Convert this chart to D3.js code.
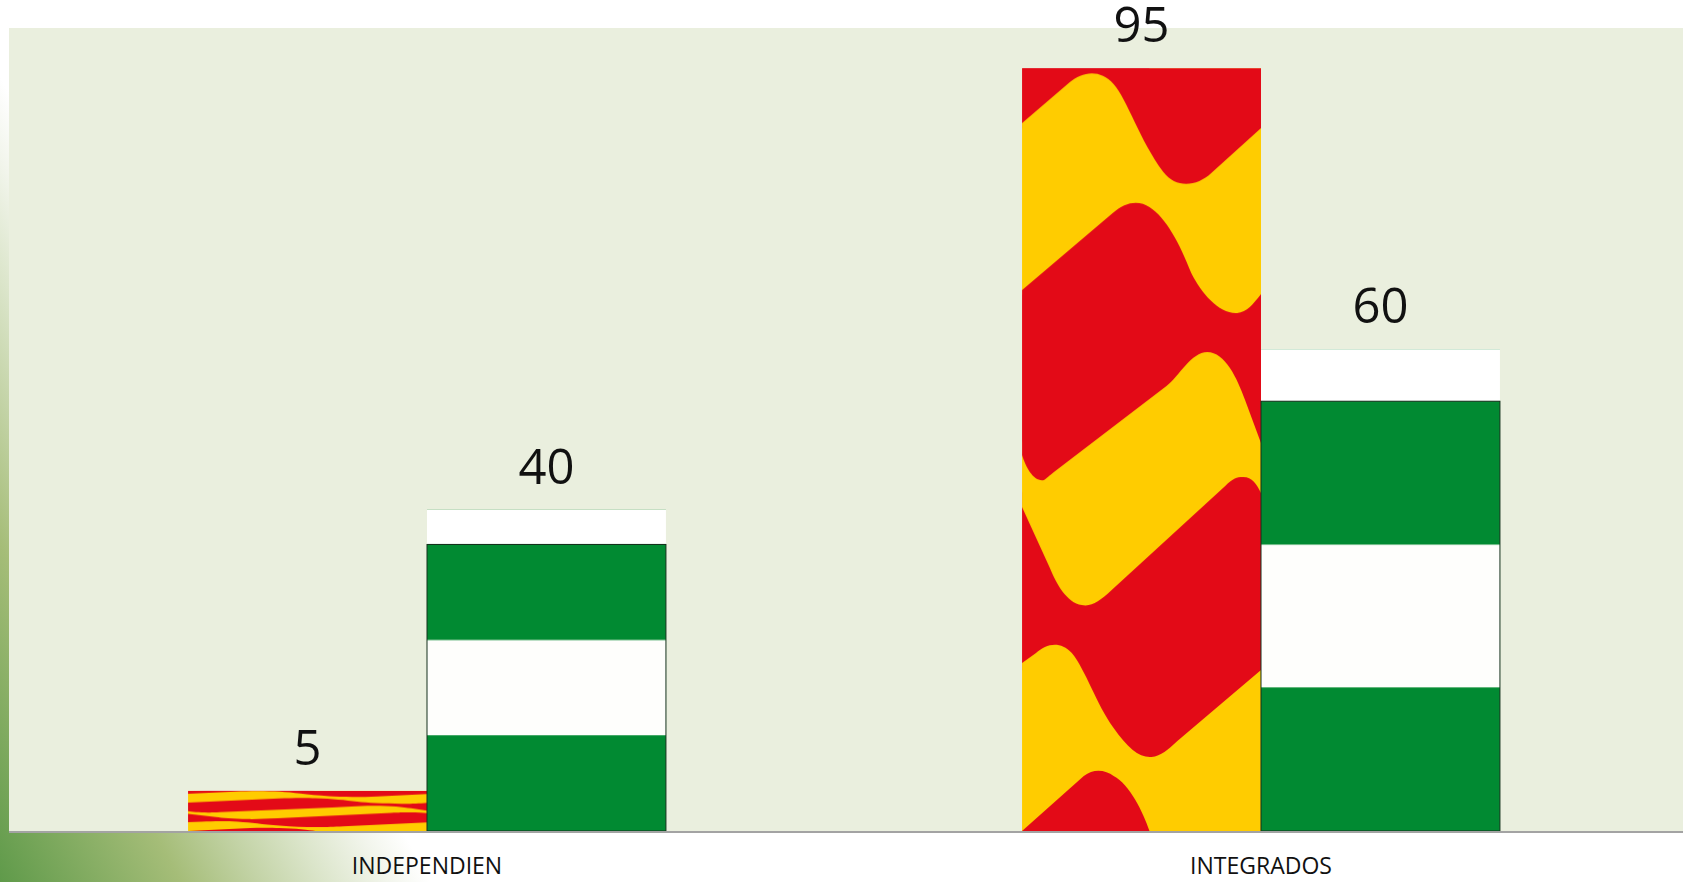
<!DOCTYPE html>
<head>
  <meta charset="utf-8">
  <script src="https://d3js.org/d3.v7.min.js"></script>
  <style>
    body { margin:0; background:#fff; }
    svg { display:block; }
    .axis text { font: 23px "Open Sans", sans-serif; fill:#111; }
    .axis path { stroke:#a3a3a3; stroke-width:2px; }
    .value { font: 49px "Open Sans", sans-serif; fill:#111; text-anchor:middle; }
  </style>
</head>

<body>
  <svg id="chart"></svg>
  <script>

  var categories = ["INDEPENDIEN", "INTEGRADOS"];
  var seriesNames = ["senyera", "andalucia"];
  var senyeraValues = [5, 95];
  var andaluciaValues = [40, 60];

  var width = 1683, height = 882;
  var plot = {left: 9, right: 1683, top: 28, bottom: 831};

  // the yellow waves of the flag, drawn in a 240x763 box
  var waves = [
    "M0,55L48,14C60,4,78,0,92,16C106,32,118,72,142,104C155,121,176,118,190,105L240,60" +
      "L240,226C232,236,226,244,216,245C198,246,180,225,170,205C158,175,145,150,128,139C118,132,104,133,91,145L0,222Z",
    "M0,387C4,400,12,414,22,412C24,411,28,407,32,404L145,318C158,308,170,284,186,284C204,284,216,310,224,332L240,375" +
      "L240,425C236,416,230,408,221,409C216,409,212,410,204,418L90,522C78,533,70,539,60,537C45,535,34,515,28,500L0,439Z",
    "M0,595L14,585C24,576,38,572,50,585C64,602,74,635,92,660C106,680,118,690,130,689C140,688,146,682,156,673L240,602" +
      "L240,763L128,763C122,745,108,716,92,708C84,702,72,700,62,708L0,763Z"
  ];

  // andalusian flag bands, as a share of the bar height
  var stripes = [[0, 0.108, "#ffffff"], [0.108, 0.406, "#018a32"], [0.406, 0.702, "#fefefc"], [0.702, 1, "#018a32"]];

  var svg = d3.select("#chart")
    .attr("width", width)
    .attr("height", height);

  var defs = svg.append("defs");

  // slide background in the bottom left corner
  var corner = defs.append("linearGradient")
    .attr("id", "corner")
    .attr("gradientUnits", "userSpaceOnUse")
    .attr("x1", 0).attr("y1", height)
    .attr("x2", 335).attr("y2", 703);
  [[0, "#5f9a4a"], [0.42, "#a5bd78"], [0.6, "#c3d3a6"], [0.75, "#dbe5ca"], [0.9, "#f2f5ec"], [1, "#ffffff"]].forEach(function(s) {
    corner.append("stop").attr("offset", s[0]).attr("stop-color", s[1]);
  });

  // flags are stretched to fill each bar
  var senyera = defs.append("pattern")
    .attr("id", "senyera")
    .attr("patternUnits", "objectBoundingBox")
    .attr("width", 1).attr("height", 1)
    .attr("viewBox", "0 0 240 763")
    .attr("preserveAspectRatio", "none");
  senyera.append("rect").attr("width", 240).attr("height", 763).attr("fill", "#e30a17");

  waves.forEach(function(w) {
    senyera.append("path")
      .attr("fill", "#ffcc00")
      .attr("d", w);
  });

  var andalucia = defs.append("pattern")
    .attr("id", "andalucia")
    .attr("patternUnits", "objectBoundingBox")
    .attr("width", 1).attr("height", 1)
    .attr("viewBox", "0 0 1 1")
    .attr("preserveAspectRatio", "none");
  stripes.forEach(function(s) {
    andalucia.append("rect")
      .attr("y", s[0])
      .attr("width", 1)
      .attr("height", s[1] - s[0])
      .attr("fill", s[2]);
  });

  svg.append("rect")
    .attr("width", width)
    .attr("height", height)
    .attr("fill", "url(#corner)");

  svg.append("rect")
    .attr("x", plot.left)
    .attr("y", plot.top)
    .attr("width", plot.right - plot.left)
    .attr("height", plot.bottom - plot.top)
    .attr("fill", "#eaefde");

  var x0 = d3.scaleBand()
    .domain(categories)
    .range([10, 1678])
    .paddingInner(0.427)
    .paddingOuter(0.2135);

  var x1 = d3.scaleBand()
    .domain(seriesNames)
    .range([0, x0.bandwidth()]);

  var y = d3.scaleLinear()
    .domain([0, 100])
    .range([plot.bottom, plot.top]);

  var rows = [];
  categories.forEach(function(c, i) {
    rows.push({cat: c, series: "senyera", value: senyeraValues[i]});
    rows.push({cat: c, series: "andalucia", value: andaluciaValues[i]});
  });

  svg.selectAll(".bar")
    .data(rows)
    .enter().append("rect")
    .attr("class", "bar")
    .attr("x", function(d) { return x0(d.cat) + x1(d.series); })
    .attr("y", function(d) { return y(d.value); })
    .attr("width", x1.bandwidth())
    .attr("height", function(d) { return y(0) - y(d.value); })
    .attr("fill", function(d) { return "url(#" + d.series + ")"; });

  // thin dark edge round the part of the green bars below the white band
  svg.selectAll(".edge")
    .data(rows.filter(function(d) { return d.series === "andalucia"; }))
    .enter().append("rect")
    .attr("class", "edge")
    .attr("x", function(d) { return x0(d.cat) + x1(d.series); })
    .attr("y", function(d) { return y(d.value) + (y(0) - y(d.value)) * stripes[0][1]; })
    .attr("width", x1.bandwidth())
    .attr("height", function(d) { return (y(0) - y(d.value)) * (1 - stripes[0][1]); })
    .attr("fill", "none")
    .attr("stroke", "#14301c")
    .attr("stroke-width", 1);

  svg.selectAll(".value")
    .data(rows)
    .enter().append("text")
    .attr("class", "value")
    .attr("x", function(d) { return x0(d.cat) + x1(d.series) + x1.bandwidth() / 2; })
    .attr("y", function(d) { return y(d.value) - 26; })
    .text(function(d) { return d.value; });

  var xAxis = d3.axisBottom(x0)
    .tickSize(0)
    .tickPadding(26);

  svg.append("g")
    .attr("class", "axis")
    .attr("transform", "translate(0," + (plot.bottom + 1) + ")")
    .call(xAxis)
    .select(".domain")
    .attr("d", "M" + plot.left + ",0H" + plot.right);

  </script>
</body>
